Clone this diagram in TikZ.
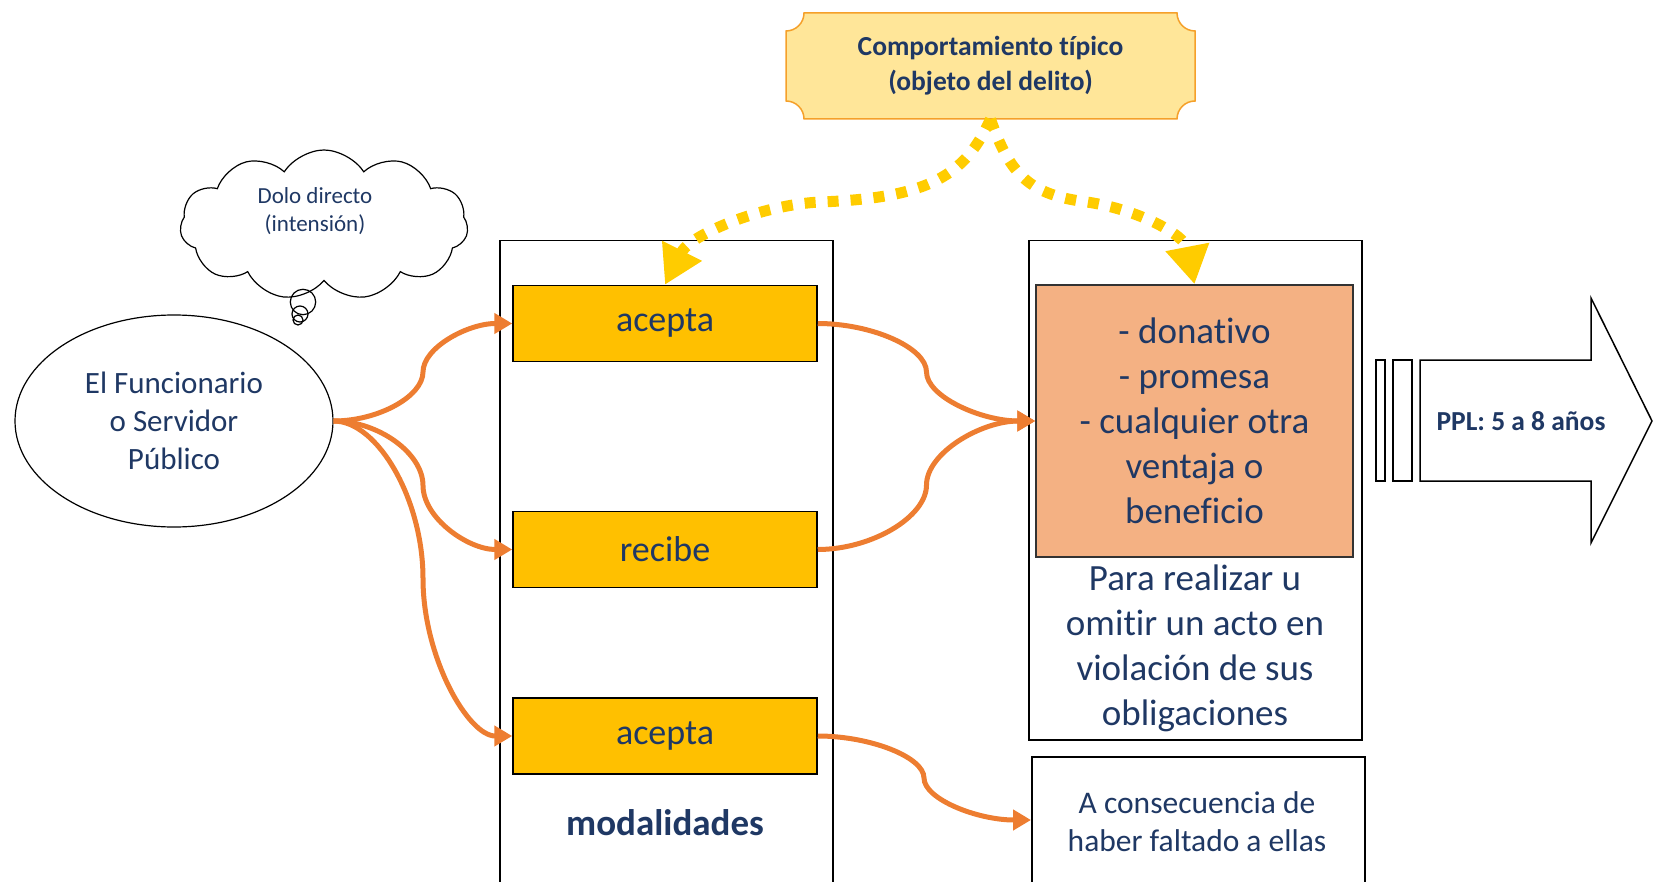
\documentclass[tikz,border=0pt]{standalone}
\usepackage{fontspec}
\setmainfont{Carlito}[RawFeature=-liga]
\usetikzlibrary{shapes.geometric,shapes.symbols,arrows.meta}
\definecolor{txt}{HTML}{1F3864}
\definecolor{gold}{HTML}{FFC000}
\definecolor{salmon}{HTML}{F4B183}
\definecolor{orng}{HTML}{ED7D31}
\definecolor{dotyel}{HTML}{FFCC00}
\definecolor{plaquefill}{HTML}{FFE699}
\definecolor{plaqueline}{HTML}{F5A02A}
\begin{document}
\begin{tikzpicture}[x=1pt,y=-1pt,
  every node/.style={text=txt, inner sep=0pt},
  goldbox/.style={draw=black, line width=1.5pt, fill=gold, minimum width=304pt, minimum height=76pt, font=\fontsize{36}{44}\selectfont},
  frame/.style={draw=black, line width=1.5pt, anchor=north west},
  oarr/.style={draw=orng, line width=5pt, -{Triangle[length=18pt,width=20pt]}},
  yarr/.style={draw=dotyel, line width=11pt, dash pattern=on 11pt off 12pt, -{Triangle[length=38pt,width=42pt]}},
  thin/.style={draw=black, line width=1.2pt}
]
\useasboundingbox (0,0) rectangle (1653,882);

% banner (plaque)
\draw[draw=plaqueline, fill=plaquefill, line width=1.5pt]
  (804,13) -- (1177,13) .. controls (1177,22.9) and (1185.1,31) .. (1195,31)
  -- (1195,101) .. controls (1185.1,101) and (1177,109.1) .. (1177,119)
  -- (804,119) .. controls (804,109.1) and (795.9,101) .. (786,101)
  -- (786,31) .. controls (795.9,31) and (804,22.9) .. (804,13) -- cycle;
\node[minimum width=409pt, minimum height=106pt, align=center,
      font=\bfseries\fontsize{27.5}{35}\selectfont] (banner) at (990.5,66) {Comportamiento típico\\(objeto del delito)};

% cloud
\node[cloud, thin, cloud puffs=11, cloud puff arc=115, aspect=2, minimum width=288pt, minimum height=150pt, fill=white] (cloud) at (324,225) {};
\node[align=center, font=\fontsize{23}{28}\selectfont] (dolo) at (315,211) {Dolo directo\\(intensión)};
\draw[thin] (303,302) circle (12.7);
\draw[thin] (300,314) circle (8);
\draw[thin] (298,320) circle (5);

% ellipse
\node[ellipse, thin, minimum width=318pt, minimum height=212pt, align=center,
      font=\fontsize{31}{38}\selectfont] (fun) at (174,421) {El Funcionario\\o Servidor\\Público};

% containers
\node[frame, minimum width=333pt, minimum height=660pt] (modbox) at (499,240) {};
\node[frame, minimum width=333pt, minimum height=499pt] (rbox) at (1028,240) {};
\node[frame, minimum width=333pt, minimum height=140pt] (cbox) at (1031,756) {};

% gold boxes
\node[goldbox] (ac1) at (665,323.5) {acepta};
\node[goldbox] (rec) at (665,549.5) {recibe};
\node[goldbox] (ac2) at (665,736) {acepta};
\node[font=\bfseries\fontsize{37}{44}\selectfont] (mod) at (665,823) {modalidades};

% salmon box
\node[draw=black!80, line width=1.5pt, fill=salmon, minimum width=317pt, minimum height=272pt,
      align=center, font=\fontsize{37}{45}\selectfont] (obj) at (1194.5,421)
  {- donativo\\- promesa\\- cualquier otra\\ventaja o\\beneficio};
\node[align=center, font=\fontsize{37}{45}\selectfont] (para) at (1195,648)
  {Para realizar u\\omitir un acto en\\violación de sus\\obligaciones};
\node[align=center, font=\fontsize{31.5}{38}\selectfont] (cons) at (1197,822)
  {A consecuencia de\\haber faltado a ellas};

% big arrow
\draw[thin, line width=1.5pt] (1420,360) -- (1591,360) -- (1591,298) -- (1652,421) -- (1591,543) -- (1591,481) -- (1420,481) -- cycle;
\draw[thin, line width=1.5pt] (1376,360) rectangle (1385,481);
\draw[thin, line width=1.5pt] (1393,360) rectangle (1412,481);
\node[font=\bfseries\fontsize{27.5}{32}\selectfont] (ppl) at (1521,421) {PPL: 5 a 8 años};

% orange connectors
\draw[oarr] (fun.east) .. controls (378,421) and (423,396.5) .. (423,372) .. controls (423,347.5) and (468,323.5) .. (ac1.west);
\draw[oarr] (fun.east) .. controls (378,421) and (423,453) .. (423,485.5) .. controls (423,518) and (468,549.5) .. (rec.west);
\draw[oarr] (fun.east) .. controls (378,421) and (423,500) .. (423,578.5) .. controls (423,657) and (468,736) .. (ac2.west);
\draw[oarr] (ac1.east) .. controls (871.5,323.5) and (926.5,347.5) .. (926.5,372) .. controls (926.5,396.5) and (981,421) .. (obj.west);
\draw[oarr] (rec.east) .. controls (871.5,549.5) and (926.5,517) .. (926.5,485) .. controls (926.5,453) and (981,421) .. (obj.west);
\draw[oarr] (ac2.east) .. controls (870,736) and (924,757) .. (924,778) .. controls (924,799) and (977,820) .. (cbox.west |- 0,820);

% yellow dotted connectors
\draw[yarr] (banner.south) .. controls (965,175) and (930,198) .. (820,202) .. controls (760,205) and (690,235) .. (ac1.north);
\draw[yarr] (banner.south) .. controls (1010,175) and (1030,195) .. (1087,202) .. controls (1140,210) and (1185,235) .. (obj.north);
\end{tikzpicture}
\end{document}
